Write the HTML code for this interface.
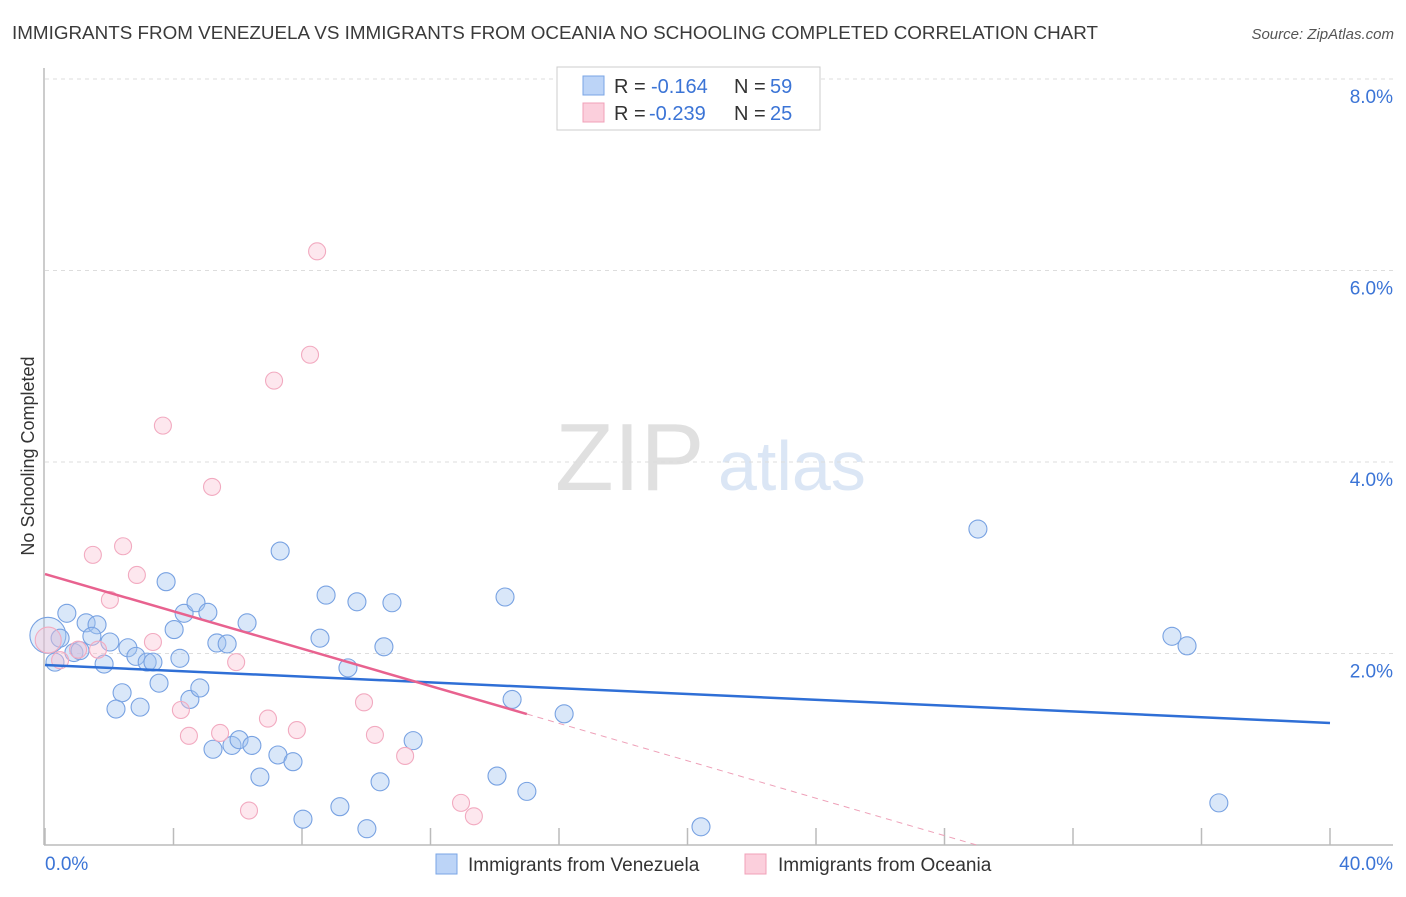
<!DOCTYPE html>
<html><head><meta charset="utf-8"><style>
body{margin:0;background:#fff;font-family:"Liberation Sans",sans-serif;}
svg text{font-family:"Liberation Sans",sans-serif;}
</style></head><body>
<svg id="c" width="1406" height="892" xmlns="http://www.w3.org/2000/svg">
<text x="12" y="39" font-size="18" fill="#3a3a3a" textLength="1086" lengthAdjust="spacingAndGlyphs">IMMIGRANTS FROM VENEZUELA VS IMMIGRANTS FROM OCEANIA NO SCHOOLING COMPLETED CORRELATION CHART</text>
<text x="1394" y="39" font-size="15" fill="#555" font-style="italic" text-anchor="end">Source: ZipAtlas.com</text>
<g>
<text x="555" y="490" font-size="96" fill="#e0e0e0" font-family="Liberation Serif">ZIP</text>
<text x="718" y="490" font-size="70" fill="#dbe6f5">atlas</text>
</g>
<g id="grid"></g>
<g id="axes"></g>
<g id="marks"></g>
<g id="trends"></g>
<text transform="translate(34,456) rotate(-90)" font-size="18" fill="#333" text-anchor="middle">No Schooling Completed</text>
<g>
<rect x="557" y="67" width="263" height="63" fill="#fff" stroke="#ccc"/>
<rect x="583" y="76" width="21" height="19" fill="#bcd4f7" stroke="#7aa5e6"/>
<rect x="583" y="103" width="21" height="19" fill="#fbcfdc" stroke="#f0a0b8"/>
<text x="614" y="93" font-size="20" fill="#333">R = <tspan x="651" fill="#3b74d6">-0.164</tspan><tspan x="734">N = </tspan><tspan x="770" fill="#3b74d6">59</tspan></text>
<text x="614" y="120" font-size="20" fill="#333">R = <tspan x="649" fill="#3b74d6">-0.239</tspan><tspan x="734">N = </tspan><tspan x="770" fill="#3b74d6">25</tspan></text>
</g>
<g>
<rect x="436" y="854" width="21" height="20" fill="#bcd4f7" stroke="#7aa5e6"/>
<text x="468" y="871" font-size="19" fill="#333">Immigrants from Venezuela</text>
<rect x="745" y="854" width="21" height="20" fill="#fbcfdc" stroke="#f0a0b8"/>
<text x="778" y="871" font-size="19" fill="#333">Immigrants from Oceania</text>
</g>
</svg>
<script>
const yTicks=[2,4,6,8];
const yTickLabels=["2.0%","4.0%","6.0%","8.0%"];
const xTickVals=[0,4,8,12,16,20,24,28,32,36,40];
const xEndLabels=["0.0%","40.0%"];
const blueX=[0.09,0.31,0.68,0.47,1.28,1.62,1.46,0.90,1.09,1.84,2.02,2.58,2.83,3.18,3.36,3.77,4.33,4.70,5.07,4.02,4.20,3.55,2.40,2.21,2.96,4.51,4.82,5.35,5.67,6.29,5.23,5.82,6.04,6.44,6.69,7.25,7.72,7.32,8.75,8.56,9.71,9.43,10.80,10.55,8.03,9.18,10.02,10.43,11.46,14.32,14.54,14.07,15.00,16.16,20.42,29.04,35.08,35.55,36.54];
const blueY=[2.19,1.91,2.42,2.16,2.32,2.30,2.18,2.01,2.03,1.89,2.12,2.06,1.97,1.91,1.91,2.75,2.42,2.53,2.43,2.25,1.95,1.69,1.59,1.42,1.44,1.52,1.64,2.11,2.10,2.32,1.00,1.04,1.10,1.04,0.71,0.94,0.87,3.07,2.61,2.16,2.54,1.85,2.53,2.07,0.27,0.40,0.17,0.66,1.09,2.59,1.52,0.72,0.56,1.37,0.19,3.30,2.18,2.08,0.44];
const pinkX=[0.10,0.47,1.03,1.65,2.02,1.49,2.43,2.86,3.36,3.67,5.20,5.95,7.13,8.25,8.47,4.23,4.48,5.45,6.94,7.84,6.35,9.93,10.27,11.21,12.95,13.35];
const pinkY=[2.14,1.93,2.04,2.04,2.56,3.03,3.12,2.82,2.12,4.38,3.74,1.91,4.85,5.12,6.20,1.41,1.14,1.17,1.32,1.20,0.36,1.49,1.15,0.93,0.44,0.30];
const blueTrend=[[0,1.88],[40,1.274]];
const pinkTrend=[[0,2.83],[15,1.368],[29.0,0]];
const X0=45,X1=1330,Y0=845,PX=191.5/2;
const sx=v=>X0+(v/40)*(X1-X0);
const sy=v=>Y0-v*PX;
const NS="http://www.w3.org/2000/svg";
function mk(t,a,p){const e=document.createElementNS(NS,t);for(const k in a)e.setAttribute(k,a[k]);p.appendChild(e);return e;}
const grid=document.getElementById('grid'),axes=document.getElementById('axes'),marks=document.getElementById('marks'),trends=document.getElementById('trends');
yTicks.forEach((v,i)=>{
 const l=mk('line',{x1:45,x2:1393,y1:sy(v),y2:sy(v),stroke:'#ddd','stroke-dasharray':'4,4'},grid);
 
 
 const t=mk('text',{x:1393,y:sy(v)+24,'font-size':19,fill:'#3b74d6','text-anchor':'end'},grid);
 t.textContent=yTickLabels[i];
 
 
});
let a=mk('line',{x1:44,x2:44,y1:68,y2:845,stroke:'#bbb','stroke-width':1.5},axes);


a=mk('line',{x1:44,x2:1393,y1:845,y2:845,stroke:'#bbb','stroke-width':1.5},axes);


xTickVals.forEach(v=>{
 const l=mk('line',{x1:sx(v),x2:sx(v),y1:828,y2:845,stroke:'#bbb','stroke-width':1.5},axes);
 
 
});
[[0,'start',45],[40,'end',1393]].forEach((d,i)=>{
 const t=mk('text',{x:d[2],y:870,'font-size':19,fill:'#3b74d6','text-anchor':d[1]},axes);
 t.textContent=xEndLabels[i];
 
 
});
blueX.forEach((v,i)=>{
 const r=i===0?18:9;
 const c=mk('circle',{cx:sx(v),cy:sy(blueY[i]),r:r,fill:i===0?'rgba(160,195,240,0.3)':'rgba(160,195,240,0.4)',stroke:'#78a2e2','stroke-width':1.1},marks);
 
 
});
pinkX.forEach((v,i)=>{
 const r=i===0?13:8.5;
 const c=mk('circle',{cx:sx(v),cy:sy(pinkY[i]),r:r,fill:'rgba(250,195,212,0.4)',stroke:'#f2aac0','stroke-width':1.1},marks);
 
 
});
let t=mk('line',{x1:sx(blueTrend[0][0]),y1:sy(blueTrend[0][1]),x2:sx(blueTrend[1][0]),y2:sy(blueTrend[1][1]),stroke:'#2f6fd6','stroke-width':2.5},trends);


t=mk('line',{x1:sx(pinkTrend[0][0]),y1:sy(pinkTrend[0][1]),x2:sx(pinkTrend[1][0]),y2:sy(pinkTrend[1][1]),stroke:'#e8628f','stroke-width':2.5},trends);


t=mk('line',{x1:sx(pinkTrend[1][0]),y1:sy(pinkTrend[1][1]),x2:sx(pinkTrend[2][0]),y2:sy(pinkTrend[2][1]),stroke:'#eea0b8','stroke-width':1,'stroke-dasharray':'6,5'},trends);


</script>
</body></html>
